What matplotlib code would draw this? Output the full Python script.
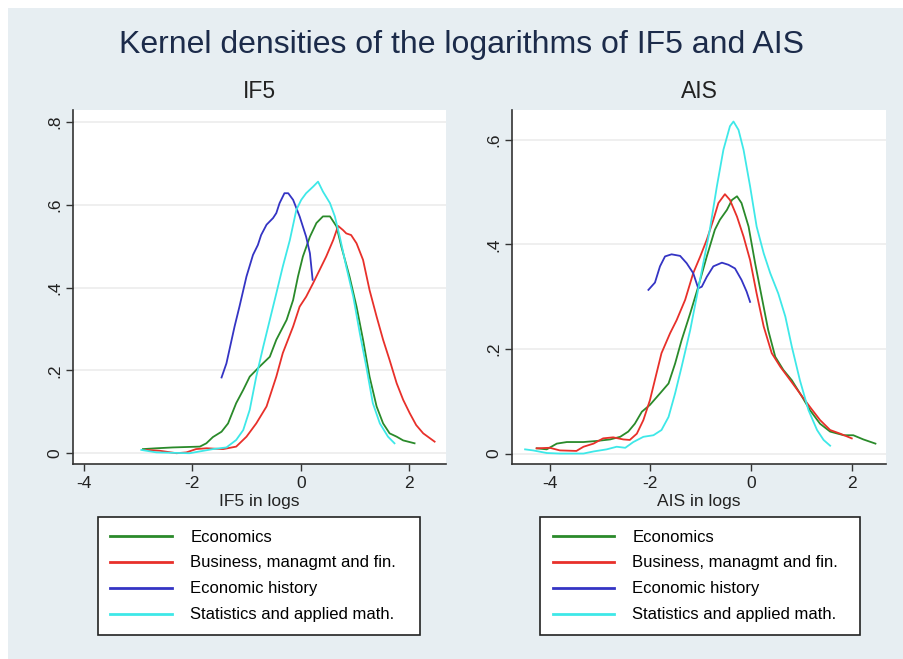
import matplotlib
matplotlib.use("Agg")
import matplotlib.pyplot as plt
from matplotlib.patches import Rectangle
from matplotlib.lines import Line2D

plt.rcParams['font.family'] = ['Liberation Sans', 'DejaVu Sans']

title = "Kernel densities of the logarithms of IF5 and AIS"
panel_titles = ["IF5", "AIS"]
xlabels = ["IF5 in logs", "AIS in logs"]
series_names = ["Economics", "Business, managmt and fin.", "Economic history",
                "Statistics and applied math."]

# ---- IF5 panel ----
if5_econ_x = [-2.91, -2.66, -2.36, -1.86, -1.74, -1.62, -1.46, -1.34, -1.19, -1.06, -0.94, -0.76,
              -0.57, -0.45, -0.26, -0.14, -0.05, 0.04, 0.17, 0.29, 0.41, 0.54, 0.66, 0.75, 0.90,
              1.03, 1.15, 1.27, 1.40, 1.52, 1.64, 1.77, 1.89, 2.10]
if5_econ_y = [0.010, 0.012, 0.014, 0.016, 0.024, 0.039, 0.052, 0.072, 0.121, 0.153, 0.185, 0.209,
              0.233, 0.274, 0.322, 0.370, 0.427, 0.475, 0.523, 0.556, 0.572, 0.572, 0.548, 0.499,
              0.427, 0.354, 0.274, 0.185, 0.113, 0.072, 0.048, 0.040, 0.031, 0.024]
if5_bus_x = [-2.85, -2.60, -2.29, -2.11, -1.93, -1.74, -1.43, -1.19, -1.00, -0.82, -0.63, -0.45,
             -0.33, -0.14, -0.02, 0.10, 0.23, 0.35, 0.47, 0.60, 0.69, 0.78, 0.84, 0.93, 1.03, 1.15,
             1.27, 1.40, 1.52, 1.64, 1.77, 1.89, 2.01, 2.13, 2.26, 2.47]
if5_bus_y = [0.008, 0.006, 0.000, 0.002, 0.010, 0.012, 0.010, 0.016, 0.040, 0.072, 0.113, 0.185,
             0.242, 0.306, 0.354, 0.378, 0.411, 0.443, 0.475, 0.515, 0.549, 0.539, 0.531, 0.527,
             0.507, 0.467, 0.394, 0.330, 0.274, 0.225, 0.169, 0.129, 0.097, 0.068, 0.048, 0.028]
if5_hist_x = [-1.46, -1.37, -1.22, -1.13, -1.00, -0.88, -0.79, -0.73, -0.63, -0.51, -0.45, -0.39,
              -0.30, -0.23, -0.14, -0.02, 0.10, 0.17, 0.22]
if5_hist_y = [0.183, 0.217, 0.306, 0.354, 0.427, 0.479, 0.503, 0.527, 0.552, 0.568, 0.580, 0.604,
              0.628, 0.628, 0.612, 0.572, 0.523, 0.483, 0.419]
if5_stat_x = [-2.94, -2.66, -2.05, -1.62, -1.37, -1.19, -1.06, -0.94, -0.82, -0.69, -0.57, -0.45,
              -0.33, -0.20, -0.08, 0.01, 0.10, 0.23, 0.32, 0.41, 0.54, 0.63, 0.72, 0.84, 0.97,
              1.09, 1.21, 1.33, 1.46, 1.61, 1.73]
if5_stat_y = [0.008, 0.002, 0.000, 0.010, 0.014, 0.032, 0.056, 0.105, 0.185, 0.258, 0.322, 0.386,
              0.451, 0.515, 0.588, 0.612, 0.628, 0.644, 0.656, 0.632, 0.604, 0.572, 0.523, 0.451,
              0.378, 0.290, 0.209, 0.121, 0.072, 0.040, 0.024]

# ---- AIS panel ----
ais_econ_x = [-4.26, -4.06, -3.86, -3.66, -3.33, -3.07, -2.80, -2.60, -2.44, -2.31, -2.17, -2.01,
              -1.81, -1.64, -1.51, -1.38, -1.21, -1.05, -0.88, -0.72, -0.62, -0.48, -0.38, -0.28,
              -0.19, -0.05, 0.08, 0.21, 0.34, 0.48, 0.64, 0.81, 1.01, 1.17, 1.37, 1.57, 1.84,
              2.03, 2.23, 2.47]
ais_econ_y = [0.010, 0.008, 0.019, 0.022, 0.022, 0.024, 0.027, 0.032, 0.042, 0.057, 0.080, 0.093,
              0.115, 0.134, 0.172, 0.217, 0.268, 0.319, 0.377, 0.428, 0.447, 0.466, 0.485, 0.492,
              0.479, 0.434, 0.364, 0.300, 0.236, 0.185, 0.160, 0.140, 0.109, 0.083, 0.057, 0.042,
              0.035, 0.035, 0.027, 0.019]
ais_bus_x = [-4.26, -4.00, -3.80, -3.47, -3.33, -3.13, -2.94, -2.74, -2.54, -2.41, -2.27, -2.14,
             -2.01, -1.88, -1.78, -1.61, -1.48, -1.31, -1.15, -1.01, -0.88, -0.75, -0.65, -0.52,
             -0.42, -0.28, -0.15, -0.02, 0.11, 0.25, 0.41, 0.58, 0.78, 0.97, 1.17, 1.37, 1.57,
             1.77, 2.00]
ais_bus_y = [0.010, 0.011, 0.006, 0.005, 0.013, 0.019, 0.029, 0.031, 0.027, 0.026, 0.038, 0.064,
             0.102, 0.153, 0.192, 0.230, 0.255, 0.294, 0.345, 0.377, 0.409, 0.447, 0.479, 0.496,
             0.485, 0.453, 0.415, 0.370, 0.306, 0.243, 0.192, 0.166, 0.140, 0.115, 0.089, 0.064,
             0.045, 0.038, 0.029]
ais_hist_x = [-2.04, -1.91, -1.81, -1.71, -1.58, -1.41, -1.28, -1.15, -1.05, -0.98, -0.88, -0.75,
              -0.58, -0.45, -0.32, -0.19, -0.09, -0.02]
ais_hist_y = [0.313, 0.327, 0.358, 0.377, 0.381, 0.378, 0.364, 0.345, 0.316, 0.319, 0.338, 0.358,
              0.365, 0.361, 0.354, 0.332, 0.310, 0.290]
ais_stat_x = [-4.49, -4.33, -4.06, -3.80, -3.33, -3.13, -2.87, -2.67, -2.50, -2.34, -2.14, -1.94,
              -1.78, -1.64, -1.51, -1.38, -1.21, -1.08, -0.95, -0.82, -0.68, -0.55, -0.42, -0.35,
              -0.25, -0.15, -0.02, 0.11, 0.25, 0.38, 0.54, 0.68, 0.81, 0.97, 1.14, 1.31, 1.44, 1.57]
ais_stat_y = [0.008, 0.006, 0.001, 0.000, 0.000, 0.004, 0.008, 0.013, 0.011, 0.022, 0.032, 0.035,
              0.045, 0.070, 0.115, 0.166, 0.236, 0.300, 0.364, 0.428, 0.511, 0.581, 0.626, 0.635,
              0.619, 0.581, 0.511, 0.434, 0.383, 0.345, 0.306, 0.262, 0.204, 0.140, 0.083, 0.045,
              0.026, 0.015]

x_ticks = [-4, -2, 0, 2]
if5_yticks = [0, 0.2, 0.4, 0.6, 0.8]
if5_yticklabels = ["0", ".2", ".4", ".6", ".8"]
ais_yticks = [0, 0.2, 0.4, 0.6]
ais_yticklabels = ["0", ".2", ".4", ".6"]

colors = ["#2a8a2a", "#e8302a", "#3434c4", "#3ee8e8"]

W, H = 904, 659
fig = plt.figure(figsize=(W / 100, H / 100), dpi=100)
fig.patch.set_facecolor("white")
fig.patches.append(Rectangle((8 / W, 0), 1 - 8 / W, 1 - 8 / H, transform=fig.transFigure,
                             facecolor="#e7eef2", edgecolor="none", zorder=-10))

fig.text(462 / W, 1 - 45 / H, title, ha="center", va="center", fontsize=23, color="#1c2b4a")

panels = [
    dict(pos=[73 / W, 1 - 464 / H, 373 / W, 354 / H], xlim=(-4.2, 2.68), ylim=(-0.026, 0.829),
         yt=if5_yticks, ytl=if5_yticklabels,
         data=[(if5_econ_x, if5_econ_y), (if5_bus_x, if5_bus_y), (if5_hist_x, if5_hist_y),
               (if5_stat_x, if5_stat_y)],
         leg=[98 / W, 1 - 632 / H, 322 / W, 115 / H]),
    dict(pos=[512 / W, 1 - 464 / H, 374 / W, 354 / H], xlim=(-4.75, 2.68), ylim=(-0.02, 0.657),
         yt=ais_yticks, ytl=ais_yticklabels,
         data=[(ais_econ_x, ais_econ_y), (ais_bus_x, ais_bus_y), (ais_hist_x, ais_hist_y),
               (ais_stat_x, ais_stat_y)],
         leg=[540 / W, 1 - 632 / H, 320 / W, 115 / H]),
]

for i, p in enumerate(panels):
    ax = fig.add_axes(p["pos"])
    ax.set_facecolor("white")
    for (xs, ys), c in zip(p["data"], colors):
        ax.plot(xs, ys, color=c, lw=1.3)
    ax.set_xlim(*p["xlim"])
    ax.set_ylim(*p["ylim"])
    ax.set_xticks(x_ticks)
    ax.set_xticklabels([str(t) for t in x_ticks])
    ax.set_yticks(p["yt"])
    ax.set_yticklabels(p["ytl"], rotation=90, va="center")
    ax.tick_params(axis="both", labelsize=12.5, colors="#333333", length=5, width=1,
                   labelcolor="#222222")
    ax.tick_params(axis="y", pad=3)
    for s in ["top", "right"]:
        ax.spines[s].set_visible(False)
    for s in ["left", "bottom"]:
        ax.spines[s].set_color("#333333")
        ax.spines[s].set_linewidth(1.2)
    ax.grid(axis="y", color="#ececec", lw=1.2)
    ax.set_axisbelow(True)
    ax.set_title(panel_titles[i], fontsize=16.5, color="#222222", pad=9)
    ax.set_xlabel(xlabels[i], fontsize=12.5, color="#222222", labelpad=2)

    handles = [Line2D([0], [0], color=c, lw=2) for c in colors]
    leg = fig.legend(handles, series_names, loc="upper left",
                     bbox_to_anchor=p["leg"], bbox_transform=fig.transFigure,
                     mode="expand", borderaxespad=0, fontsize=12, frameon=True,
                     fancybox=False, handlelength=3.7, handletextpad=1.1,
                     labelspacing=0.66, borderpad=0.75)
    fr = leg.get_frame()
    fr.set_edgecolor("#222222")
    fr.set_linewidth(1.2)
    fr.set_facecolor("white")
    fr.set_alpha(1)

fig.savefig("out.png", dpi=100)
